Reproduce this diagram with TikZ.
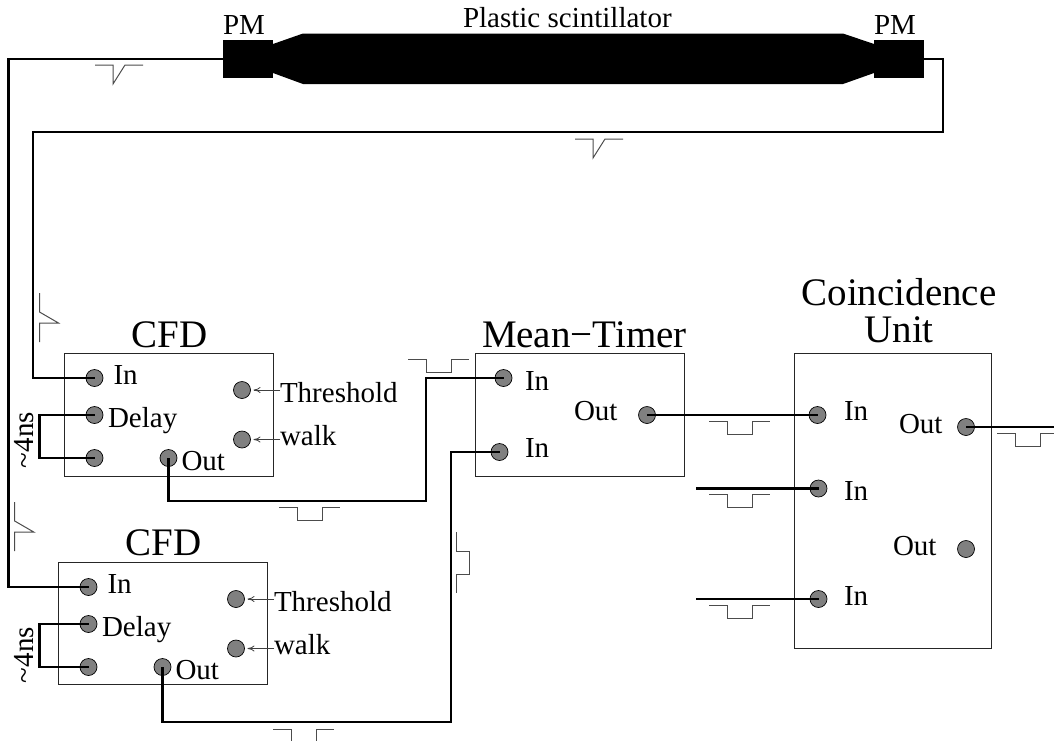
\documentclass[tikz,border=0pt]{standalone}
\usepackage{fontspec}
\usetikzlibrary{arrows.meta}
\setmainfont{Liberation Serif}
\begin{document}
\begin{tikzpicture}[
x=1pt,y=-1pt,
inner sep=0pt,
outer sep=0pt,
unitbox/.style={draw=black!85,line width=0.9pt,fill=none},
pmbox/.style={fill=black,minimum width=50pt,minimum height=38pt},
port/.style={circle,draw=black,line width=0.7pt,fill=black!50,minimum size=17pt},
wire/.style={line width=2.6pt,line join=miter},
pulseline/.style={draw=black!70,line width=1pt},
setarrow/.style={draw=black!75,line width=0.8pt,-{To[length=7pt,width=6pt]},shorten >=3pt},
small/.style={anchor=base west,font=\fontsize{29}{29}\selectfont},
big/.style={anchor=base west,font=\fontsize{39}{37}\selectfont},
pics/dippulse/.style={code={
	\draw[pulseline] (0,0) -- (18,0) -- (18,13) -- (43,13) -- (43,0) -- (61,0);
}},
pics/fastpulse/.style={code={
	\draw[pulseline] (0,0) -- (18,0) -- (18,19) -- (30,0) -- (48,0);
}},
pics/fastpulseup/.style={code={
	\draw[pulseline] (0,0) -- (0,19) -- (19,30) -- (0,30) -- (0,49);
}},
pics/dippulseup/.style={code={
	\draw[pulseline] (0,0) -- (0,19) -- (13,19) -- (13,42) -- (0,42) -- (0,61);
}}
]
\useasboundingbox (0,0) rectangle (1054,740);

\fill (273,44) -- (303,33.5) -- (843,33.5) -- (874,44) -- (874,73) -- (843,84) -- (303,84) -- (273,73) -- cycle;
\node[pmbox] (pmleft) at (248,58.8) {};
\node[pmbox] (pmright) at (899,58.8) {};
\node[small] (pmlefttext) at (223,34) {PM};
\node[small] (pmrighttext) at (874,34) {PM};
\node[small] (scinttext) at (463,27.3) {Plastic scintillator};

\node[unitbox,minimum width=209pt,minimum height=122.5pt] (cfda) at (168.5,414.8) {};
\node[big] (cfdatext) at (131.5,347) {CFD};
\node[port] (cfdain) at (94.5,378) {};
\node[port] (cfdadelay) at (94.5,415) {};
\node[port] (cfdaback) at (94.5,458) {};
\node[port] (cfdaout) at (168.5,458) {};
\node[port] (cfdathr) at (242,390) {};
\node[port] (cfdawalk) at (242,439.5) {};
\node[small] (cfdaintext) at (113.5,384.5) {In};
\node[small] (cfdadelaytext) at (108,427.5) {Delay};
\node[small] (cfdaouttext) at (181.5,470) {Out};
\node[small] (cfdathrtext) at (280,402.5) {Threshold};
\node[small] (cfdawalktext) at (280,445) {walk};
\node[small,rotate=90] (cfdans) at (33.5,468) {\textasciitilde4ns};

\node[unitbox,minimum width=209pt,minimum height=122.5pt] (cfdb) at (162.5,623.5) {};
\node[big] (cfdbtext) at (125.5,555) {CFD};
\node[port] (cfdbin) at (88.5,587) {};
\node[port] (cfdbdelay) at (88.5,624) {};
\node[port] (cfdbback) at (88.5,667) {};
\node[port] (cfdbout) at (162.5,667) {};
\node[port] (cfdbthr) at (236,599) {};
\node[port] (cfdbwalk) at (236,648.5) {};
\node[small] (cfdbintext) at (107.5,593.5) {In};
\node[small] (cfdbdelaytext) at (102,636.5) {Delay};
\node[small] (cfdbouttext) at (175.5,679) {Out};
\node[small] (cfdbthrtext) at (274,611.5) {Threshold};
\node[small] (cfdbwalktext) at (274,654) {walk};
\node[small,rotate=90] (cfdbns) at (33.5,683) {\textasciitilde4ns};

\node[unitbox,minimum width=209pt,minimum height=122.5pt] (meantimer) at (579.5,414.8) {};
\node[big] (meantimertext) at (482,347) {Mean−Timer};
\node[port] (mtina) at (503.5,378) {};
\node[port] (mtinb) at (499.5,452) {};
\node[port] (mtout) at (647,415) {};
\node[small] (mtinatext) at (525,390) {In};
\node[small] (mtinbtext) at (525,457) {In};
\node[small] (mtouttext) at (574,420.5) {Out};

\node[unitbox,minimum width=197pt,minimum height=294.5pt] (coinc) at (892.5,500.8) {};
\node[big,anchor=south,align=center] (coinctext) at (899,343) {Coincidence\\Unit};
\node[port] (coinina) at (817.5,415) {};
\node[port] (coininb) at (818.5,488.5) {};
\node[port] (coininc) at (818.5,599) {};
\node[port] (coinouta) at (966,427) {};
\node[port] (coinoutb) at (966,549) {};
\node[small] (coininatext) at (844,420) {In};
\node[small] (coininbtext) at (844,500) {In};
\node[small] (coininctext) at (844,605) {In};
\node[small] (coinoutatext) at (899,433) {Out};
\node[small] (coinoutbtext) at (893,555) {Out};

\coordinate (leftcorner) at (8.5,58.8);
\coordinate (rightcorner) at (943,58.8);
\coordinate (backcorner) at (33,132);
\coordinate (cfdaloop) at (39.5,415);
\coordinate (cfdbloop) at (39.5,624);
\coordinate (cfdarun) at (426,501);
\coordinate (cfdbrun) at (451,722);
\coordinate (stubb) at (696,488.5);
\coordinate (stubc) at (696,599);
\coordinate (exit) at (1054,427);

\draw[wire] (pmleft.west) -- (leftcorner) |- (cfdbin.center);
\draw[wire] (pmright.east) -- (rightcorner) |- (backcorner) |- (cfdain.center);
\draw[wire] (cfdadelay.center) -- (cfdaloop) |- (cfdaback.center);
\draw[wire] (cfdbdelay.center) -- (cfdbloop) |- (cfdbback.center);
\draw[wire] (cfdaout.center) |- (cfdarun) |- (mtina.center);
\draw[wire] (cfdbout.center) |- (cfdbrun) |- (mtinb.center);
\draw[wire] (mtout.center) -- (coinina.center);
\draw[wire] (stubb) -- (coininb.center);
\draw[wire] (stubc) -- (coininc.center);
\draw[wire] (coinouta.center) -- (exit);

\draw[setarrow] (cfdathrtext.west |- cfdathr) -- (cfdathr);
\draw[setarrow] (cfdawalktext.west |- cfdawalk) -- (cfdawalk);
\draw[setarrow] (cfdbthrtext.west |- cfdbthr) -- (cfdbthr);
\draw[setarrow] (cfdbwalktext.west |- cfdbwalk) -- (cfdbwalk);

\pic at (95,65) {fastpulse};
\pic at (575,139) {fastpulse};
\pic at (39.5,293) {fastpulseup};
\pic at (14.7,502) {fastpulseup};
\pic at (279,507) {dippulse};
\pic at (273,729) {dippulse};
\pic at (408,359) {dippulse};
\pic at (709,421) {dippulse};
\pic at (709,494) {dippulse};
\pic at (709,605) {dippulse};
\pic at (997,433) {dippulse};
\pic at (456.7,532) {dippulseup};
\end{tikzpicture}
\end{document}
